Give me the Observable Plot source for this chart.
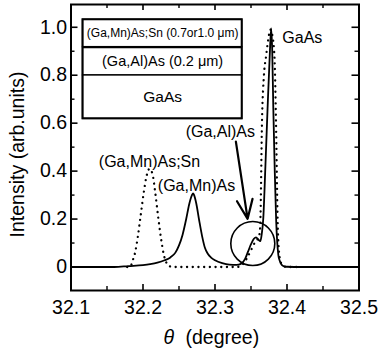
<!DOCTYPE html>
<html>
<head>
<meta charset="utf-8">
<script src="https://cdn.jsdelivr.net/npm/d3@7"></script>
<script src="https://cdn.jsdelivr.net/npm/@observablehq/plot@0.6"></script>
<style>
  html, body { margin: 0; padding: 0; background: #fff; }
</style>
</head>
<body>
<div id="chart"></div>
<script>
// (Ga,Mn)As sample — solid line
const mnTheta = [32.10, 32.16, 32.18, 32.20, 32.21, 32.22, 32.23, 32.238, 32.245, 32.25, 32.255, 32.26, 32.264, 32.268, 32.2695, 32.271, 32.274, 32.278, 32.282, 32.286, 32.29, 32.295, 32.30, 32.31, 32.32, 32.33, 32.336, 32.342, 32.346, 32.350, 32.354, 32.357, 32.360, 32.363, 32.365, 32.367, 32.370, 32.373, 32.376, 32.378, 32.3795, 32.381, 32.383, 32.385, 32.3865, 32.388, 32.390, 32.393, 32.397, 32.40, 32.42, 32.50];
const mnInt   = [0, 0, 0.004, 0.008, 0.012, 0.018, 0.028, 0.04, 0.06, 0.09, 0.135, 0.20, 0.26, 0.30, 0.307, 0.30, 0.265, 0.195, 0.13, 0.08, 0.055, 0.038, 0.028, 0.016, 0.010, 0.009, 0.013, 0.035, 0.065, 0.095, 0.118, 0.124, 0.115, 0.108, 0.14, 0.20, 0.42, 0.66, 0.88, 0.995, 0.90, 0.66, 0.40, 0.19, 0.10, 0.05, 0.025, 0.008, 0.002, 0.001, 0, 0];

// (Ga,Mn)As;Sn sample — dotted line
const snTheta = [32.178, 32.182, 32.186, 32.189, 32.193, 32.197, 32.201, 32.205, 32.209, 32.213, 32.217, 32.221, 32.225, 32.229, 32.233, 32.237, 32.245, 32.33, 32.338, 32.344, 32.350, 32.355, 32.359, 32.362, 32.363, 32.3653, 32.368, 32.371, 32.374, 32.377, 32.380, 32.3828, 32.3847, 32.387, 32.389, 32.392, 32.396, 32.40, 32.42];
const snInt   = [0, 0, 0.03, 0.06, 0.13, 0.22, 0.31, 0.38, 0.41, 0.39, 0.31, 0.21, 0.12, 0.05, 0.015, 0.003, 0, 0, 0.01, 0.035, 0.07, 0.10, 0.115, 0.14, 0.19, 0.61, 0.80, 0.88, 0.95, 0.99, 0.96, 0.86, 0.61, 0.19, 0.06, 0.015, 0.003, 0, 0];

// axes
const xMajor = [32.1, 32.2, 32.3, 32.4, 32.5];
const xMinor = [32.15, 32.25, 32.35, 32.45];
const yMajor = [0, 0.2, 0.4, 0.6, 0.8, 1.0];
const yMinor = [0.1, 0.3, 0.5, 0.7, 0.9];
const xDomain = [32.1, 32.5];
const yDomain = [-0.098, 1.095];

// peak annotations
const peakLabels = ["GaAs", "(Ga,Al)As", "(Ga,Mn)As;Sn", "(Ga,Mn)As"];
const peakLabelTheta = [32.4213, 32.3074, 32.209, 32.2743];
const peakLabelInt = [0.957, 0.562, 0.437, 0.340];

// (Ga,Al)As arrow and circle
const arrowFrom = [32.3290, 0.523];
const arrowTo = [32.3453, 0.201];
const circleAt = [32.3525, 0.098];

// layer structure inset
const layerNames = ["(Ga,Mn)As;Sn (0.7or1.0 μm)", "(Ga,Al)As (0.2 μm)", "GaAs"];
const layerTop = [1.0313, 0.917, 0.799];
const layerBottom = [0.917, 0.799, 0.618];
const layerX = [32.1167, 32.3378];

const mn = mnTheta.map((t, i) => ({t, v: mnInt[i]}));
const sn = snTheta.map((t, i) => ({t, v: snInt[i]}));
const peaks = peakLabels.map((s, i) => ({s, t: peakLabelTheta[i], v: peakLabelInt[i]}));
const layers = layerNames.map((s, i) => ({s, top: layerTop[i], bot: layerBottom[i], mid: (layerTop[i] + layerBottom[i]) / 2}));

const innerW = 288, innerH = 286;
const font = "Liberation Sans, Arial, Helvetica, sans-serif";

const chart = Plot.plot({
  width: 378,
  height: 356,
  marginLeft: 70.5,
  marginRight: 19.5,
  marginTop: 4,
  marginBottom: 66,
  x: {domain: xDomain},
  y: {domain: yDomain},
  style: {fontFamily: font, fontSize: "19.5px", color: "black", background: "white"},
  marks: [
    // inset: layer structure
    Plot.rect(layers, {x1: layerX[0], x2: layerX[1], y1: "bot", y2: "top", fill: "white", stroke: "black", strokeWidth: 1.4}),
    Plot.rect([0], {x1: layerX[0], x2: layerX[1], y1: layerBottom[2], y2: layerTop[0], fill: "none", stroke: "black", strokeWidth: 2}),
    Plot.ruleY([layerBottom[0]], {x1: layerX[0], x2: layerX[1], stroke: "black", strokeWidth: 2}),
    Plot.text(layers.slice(0, 1), {x: (layerX[0] + layerX[1]) / 2, y: "mid", text: "s", fontSize: 12, fill: "black"}),
    Plot.text(layers.slice(1, 2), {x: (layerX[0] + layerX[1]) / 2, y: "mid", text: "s", fontSize: 14.5, fill: "black"}),
    Plot.text(layers.slice(2, 3), {x: (layerX[0] + layerX[1]) / 2, y: "mid", text: "s", fontSize: 15.5, fill: "black"}),

    // curves
    Plot.line(mn, {x: "t", y: "v", stroke: "black", strokeWidth: 1.8, curve: "monotone-x"}),
    Plot.line(sn, {x: "t", y: "v", stroke: "black", strokeWidth: 2.3, strokeDasharray: "0.1,5.6", strokeLinecap: "round", curve: "monotone-x"}),

    // annotations
    Plot.dot([circleAt], {x: d => d[0], y: d => d[1], r: 22, fill: "none", stroke: "black", strokeWidth: 1.6}),
    Plot.arrow([0], {x1: arrowFrom[0], y1: arrowFrom[1], x2: arrowTo[0], y2: arrowTo[1], stroke: "black", strokeWidth: 2.2, headLength: 14, headAngle: 45}),
    Plot.text(peaks, {x: "t", y: "v", text: "s", fontSize: 16, fill: "black"}),

    // frame and inward ticks
    Plot.frame({stroke: "black", strokeWidth: 2}),
    Plot.ruleX(xMajor, {x: d => d, insetTop: innerH - 6, stroke: "black", strokeWidth: 1.6}),
    Plot.ruleX(xMajor, {x: d => d, insetBottom: innerH - 6, stroke: "black", strokeWidth: 1.6}),
    Plot.ruleX(xMinor, {x: d => d, insetTop: innerH - 4, stroke: "black", strokeWidth: 1.4}),
    Plot.ruleX(xMinor, {x: d => d, insetBottom: innerH - 4, stroke: "black", strokeWidth: 1.4}),
    Plot.ruleY(yMajor, {y: d => d, insetRight: innerW - 7, stroke: "black", strokeWidth: 1.6}),
    Plot.ruleY(yMajor, {y: d => d, insetLeft: innerW - 7, stroke: "black", strokeWidth: 1.6}),
    Plot.ruleY(yMinor, {y: d => d, insetRight: innerW - 4, stroke: "black", strokeWidth: 1.4}),
    Plot.ruleY(yMinor, {y: d => d, insetLeft: innerW - 4, stroke: "black", strokeWidth: 1.4}),

    // axes labels
    Plot.axisX({ticks: xMajor, tickSize: 0, tickPadding: 10, tickFormat: d => d.toFixed(1), label: null, fontSize: 19.5, fill: "black"}),
    Plot.axisY({ticks: yMajor, tickSize: 0, tickPadding: 4, tickFormat: d => d === 0 ? "0" : d.toFixed(1), label: null, fontSize: 19.5, fill: "black"}),
    Plot.text(["θ"], {frameAnchor: "bottom", dx: -51.5, dy: 53, textAnchor: "start", lineAnchor: "bottom", fontStyle: "italic", fontSize: 19.5, fill: "black"}),
    Plot.text(["(degree)"], {frameAnchor: "bottom", dx: -29.5, dy: 53, textAnchor: "start", lineAnchor: "bottom", fontSize: 19.5, fill: "black"}),
    Plot.text(["Intensity (arb.units)"], {frameAnchor: "left", dx: -53, dy: 7, rotate: -90, textAnchor: "middle", lineAnchor: "middle", fontSize: 19.5, fill: "black"})
  ]
});
document.getElementById("chart").appendChild(chart);
</script>
</body>
</html>
